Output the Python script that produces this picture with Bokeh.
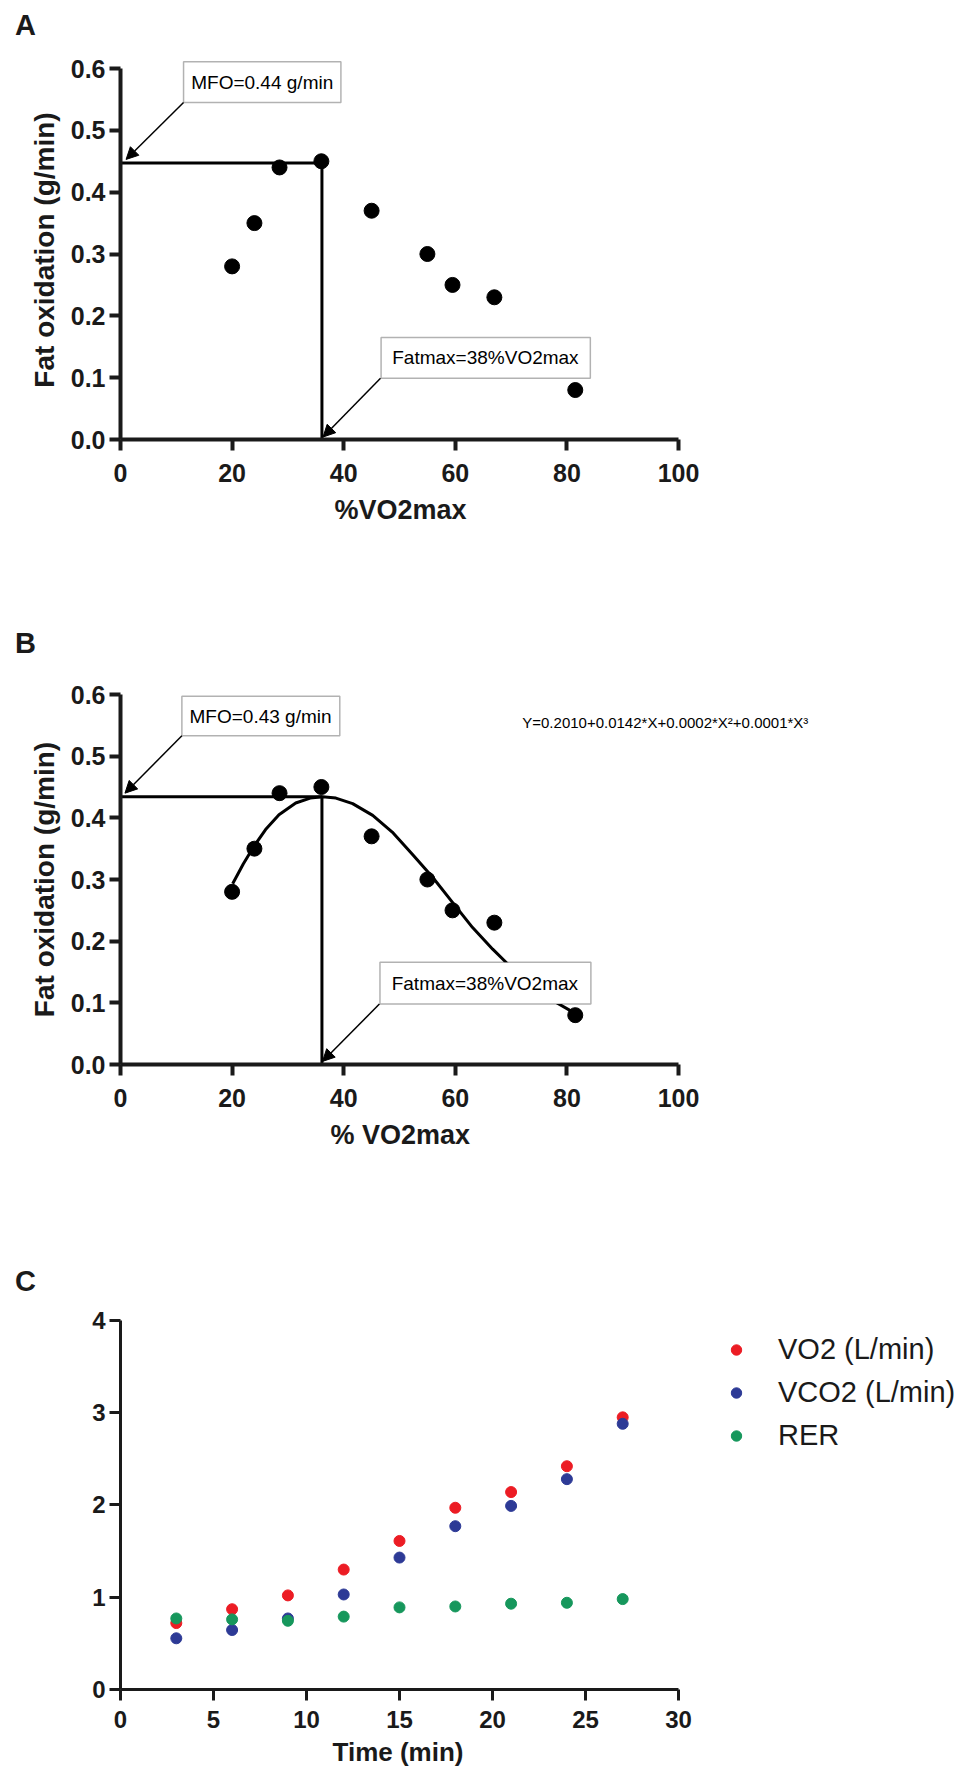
from bokeh.plotting import figure
from bokeh.layouts import column
from bokeh.models import (Range1d, FixedTicker, NumeralTickFormatter, Label, BoxAnnotation,
                          Arrow, NormalHead, Legend, LegendItem, Title, Div)
from bokeh.embed import file_html
from bokeh.resources import INLINE

# ---------------- data ----------------
vo2max_pct = [20, 24, 28.5, 36, 45, 55, 59.5, 67, 81.5]
fat_ox = [0.28, 0.35, 0.44, 0.45, 0.37, 0.30, 0.25, 0.23, 0.08]

mfo_a = 0.447
fatmax_a = 36.1
mfo_b = 0.434
fatmax_b = 36.1

fit_x = [20.1, 22.0, 24.0, 26.0, 28.4, 31.4, 34.0, 36.2, 38.6, 41.6, 45.2, 48.7,
         52.3, 55.9, 59.5, 63.1, 66.7, 69.4, 72.5, 75.5, 78.0, 80.7]
fit_y = [0.293, 0.325, 0.355, 0.381, 0.405, 0.424, 0.432, 0.434, 0.432, 0.423, 0.404, 0.377,
         0.341, 0.304, 0.263, 0.222, 0.187, 0.163, 0.138, 0.117, 0.101, 0.087]

time_min = [3, 6, 9, 12, 15, 18, 21, 24, 27]
vo2 = [0.72, 0.87, 1.02, 1.30, 1.61, 1.97, 2.14, 2.42, 2.95]
vco2 = [0.555, 0.645, 0.77, 1.03, 1.43, 1.77, 1.99, 2.28, 2.88]
rer = [0.77, 0.76, 0.745, 0.79, 0.89, 0.90, 0.93, 0.94, 0.98]

x_ticks_ab = [0, 20, 40, 60, 80, 100]
y_ticks_ab = [0.0, 0.1, 0.2, 0.3, 0.4, 0.5, 0.6]
x_ticks_c = [0, 5, 10, 15, 20, 25, 30]
y_ticks_c = [0, 1, 2, 3, 4]

FONT = "Liberation Sans"
INK = "#1a1a1a"


def base_fig(height, x_end, y_end, top, bottom):
    p = figure(width=959, height=height, x_range=Range1d(0, x_end), y_range=Range1d(0, y_end),
               output_backend="svg", toolbar_location=None,
               min_border_left=120, min_border_right=0, min_border_top=top,
               min_border_bottom=bottom)
    p.outline_line_color = None
    p.grid.visible = False
    p.background_fill_color = "white"
    p.border_fill_color = "white"
    return p


def style_axes(p, xticks, yticks, xb, yb, lw, tick_font, label_font):
    for ax in (p.xaxis[0], p.yaxis[0]):
        ax.axis_line_width = lw
        ax.axis_line_color = INK
        ax.major_tick_line_width = lw
        ax.major_tick_line_color = INK
        ax.major_tick_out = 11
        ax.major_tick_in = 0
        ax.minor_tick_line_color = None
        ax.major_label_text_font = FONT
        ax.major_label_text_font_style = "bold"
        ax.major_label_text_font_size = tick_font
        ax.major_label_text_color = INK
        ax.axis_label_text_font = FONT
        ax.axis_label_text_font_style = "bold"
        ax.axis_label_text_font_size = label_font
        ax.axis_label_text_color = INK
    p.xaxis[0].ticker = FixedTicker(ticks=xticks)
    p.yaxis[0].ticker = FixedTicker(ticks=yticks)
    p.xaxis[0].bounds = xb
    p.yaxis[0].bounds = yb
    p.xaxis[0].major_label_standoff = 13
    p.yaxis[0].major_label_standoff = 4
    p.yaxis[0].axis_label_standoff = 8


def x_title(p, text, offset, standoff, size="27px"):
    p.add_layout(Title(text=text, align="left", offset=offset, standoff=standoff,
                       vertical_align="middle", text_font=FONT, text_font_style="bold",
                       text_font_size=size, text_color=INK), "below")


def note_box(p, left, right, bottom, top, text, tx, ty, ax0, ay0, ax1, ay1):
    p.add_layout(BoxAnnotation(left=left, right=right, bottom=bottom, top=top,
                               fill_color="white", fill_alpha=1.0,
                               line_color="black", line_width=1.5))
    p.add_layout(Label(x=tx, y=ty, text=text, text_font=FONT, text_font_size="19px",
                       text_align="center", text_baseline="middle", text_color="black"))
    p.add_layout(Arrow(end=NormalHead(size=12, fill_color="black", line_color="black", line_width=1),
                       x_start=ax0, y_start=ay0, x_end=ax1, y_end=ay1,
                       line_width=1.5, line_color="black"))


def letter_div(t, h, pad_top):
    return Div(text=t, width=200, height=h, margin=(0, 0, 0, 0),
               styles={"font-family": FONT, "font-weight": "bold", "font-size": "29px",
                       "color": INK, "line-height": "30px", "padding-top": f"{pad_top}px",
                       "padding-left": "15px"})


# ---------------- Panel A ----------------
pa = base_fig(542, 839 / 5.58, 379 / 618.3, 10, 153)
style_axes(pa, x_ticks_ab, y_ticks_ab, (0, 100), (0, 0.6), 4, "25px", "28px")
pa.yaxis[0].formatter = NumeralTickFormatter(format="0.0")
pa.yaxis[0].axis_label = "Fat oxidation (g/min)"
x_title(pa, "%VO2max", 214, 18)
pa.line([0, fatmax_a, fatmax_a], [mfo_a, mfo_a, 0], line_width=3, color="black")
pa.scatter(vo2max_pct, fat_ox, size=15, color="black")
note_box(pa, 11.3, 39.5, 0.545, 0.611, "MFO=0.44 g/min", 25.4, 0.577, 11.3, 0.545, 1.0, 0.453)
note_box(pa, 46.7, 84.2, 0.099, 0.165, "Fatmax=38%VO2max", 65.4, 0.132, 46.6, 0.099, 36.3, 0.004)

# ---------------- Panel B ----------------
pb = base_fig(540, 839 / 5.58, 0.6, 12, 158)
style_axes(pb, x_ticks_ab, y_ticks_ab, (0, 100), (0, 0.6), 4, "25px", "28px")
pb.yaxis[0].formatter = NumeralTickFormatter(format="0.0")
pb.yaxis[0].axis_label = "Fat oxidation (g/min)"
x_title(pb, "% VO2max", 210, 18)
pb.line([0, fatmax_b, fatmax_b], [mfo_b, mfo_b, 0], line_width=3, color="black")
pb.line(fit_x, fit_y, line_width=3, color="black")
pb.scatter(vo2max_pct, fat_ox, size=15, color="black")
note_box(pb, 11.0, 39.3, 0.533, 0.597, "MFO=0.43 g/min", 25.1, 0.565, 11.0, 0.533, 0.8, 0.440)
note_box(pb, 46.5, 84.3, 0.098, 0.166, "Fatmax=38%VO2max", 65.3, 0.132, 46.4, 0.098, 36.2, 0.005)
pb.add_layout(Label(x=72.0, y=0.555, text="Y=0.2010+0.0142*X+0.0002*X\u00b2+0.0001*X\u00b3",
                    text_font=FONT, text_font_size="15px", text_align="left",
                    text_baseline="middle", text_color="black"))

# ---------------- Panel C ----------------
pc = base_fig(465, 839 / 18.6, 383 / 92.5, 0, 82)
style_axes(pc, x_ticks_c, y_ticks_c, (0, 30), (0, 4), 3, "24px", "27px")
pc.xaxis[0].major_label_standoff = 10
x_title(pc, "Time (min)", 212, 10, "26px")
r_vo2 = pc.scatter(time_min, vo2, size=11, color="#EC1C24")
r_vco2 = pc.scatter(time_min, vco2, size=11, color="#2D3A96")
r_rer = pc.scatter(time_min, rer, size=11, color="#16975C")
legend = Legend(items=[LegendItem(label="VO2 (L/min)", renderers=[r_vo2]),
                       LegendItem(label="VCO2 (L/min)", renderers=[r_vco2]),
                       LegendItem(label="RER", renderers=[r_rer])],
                location=(603, 232))
legend.label_text_font = FONT
legend.label_text_font_size = "29px"
legend.label_text_color = INK
legend.glyph_width = 26
legend.glyph_height = 43
legend.label_height = 43
legend.spacing = 0
legend.padding = 0
legend.margin = 0
legend.label_standoff = 29
legend.border_line_color = None
legend.background_fill_alpha = 0
pc.add_layout(legend)

layout = column(letter_div("A", 50, 10), pa,
                letter_div("B", 90, 36), pb,
                letter_div("C", 85, 44), pc)
open("out.html", "w").write(file_html(layout, INLINE))
